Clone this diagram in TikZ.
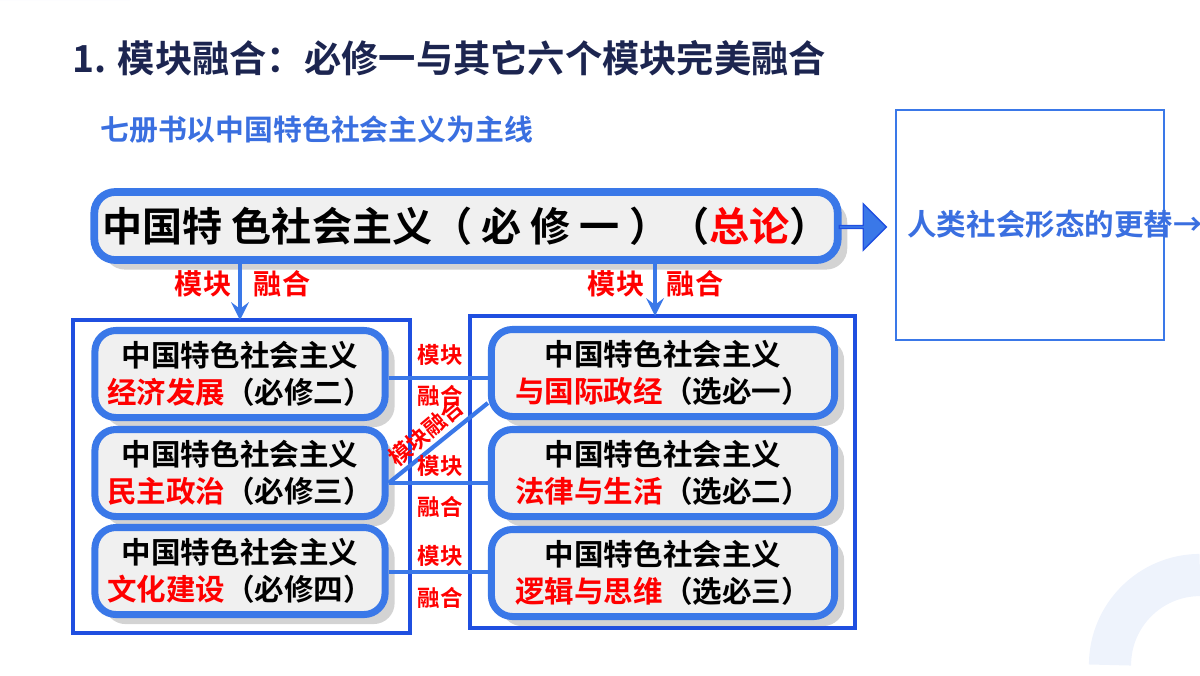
\documentclass[tikz,border=0pt]{standalone}
\usepackage{fontspec}
\setmainfont{Noto Sans CJK SC}[BoldFont={Noto Sans CJK SC Bold}]
\usetikzlibrary{positioning,shapes.arrows,shadows}
\definecolor{frameblue}{HTML}{1F4FE0}
\definecolor{boxblue}{HTML}{3A78E8}
\definecolor{navy}{HTML}{1C2550}
\definecolor{subblue}{HTML}{3A6FE0}
\definecolor{paleblue}{HTML}{EEF3FC}

\begin{document}
\begin{tikzpicture}[x=0.01cm,y=-0.01cm,
            topic/.style={draw=boxblue,line width=2.2pt,rounded corners=6pt,fill=gray!12,
                          drop shadow={opacity=.35},font=\bfseries\fontsize{11.4}{13}\selectfont,
                          minimum width=74.3mm,minimum height=6.8mm,inner sep=0pt},
            part/.style={draw=boxblue,line width=2pt,rounded corners=6pt,fill=gray!12,
                         drop shadow={opacity=.35},font=\bfseries\fontsize{8.4}{10.5}\selectfont,
                         align=center,minimum height=8.7mm,inner sep=0pt},
            frame/.style={draw=frameblue,line width=1.2pt},
            lab/.style={text=red,font=\bfseries\fontsize{6.4}{7}\selectfont},
            biglab/.style={text=red,font=\bfseries\fontsize{8}{9}\selectfont},
            link/.style={draw=boxblue,line width=1.2pt},
            every path/.style={>=stealth}
          ]
          \useasboundingbox (0,0) rectangle (1200,675);
          %background
          \fill[paleblue] (0,0) -- (130,0) arc[start angle=0,end angle=-90,radius=130] -- cycle;
          \draw[paleblue,line width=12pt] (1200,575) arc[start angle=270,end angle=180,radius=90];
          %titles
          \node[anchor=west,text=navy,font=\bfseries\fontsize{10.6}{12}\selectfont] (title) at (60,58) {1. 模块融合：必修一与其它六个模块完美融合};
          \node[anchor=west,text=subblue,font=\bfseries\fontsize{8.2}{10}\selectfont] (sub) at (88,130) {七册书以中国特色社会主义为主线};
          %main box
          \node[topic] (main) at (466,226) {中国特 色社会主义（ 必 修 一 ）（\textcolor{red}{总论}）};
          \node[single arrow,fill=boxblue,draw=frameblue,minimum height=4.7mm,minimum width=4.6mm,
                single arrow head extend=1mm,inner sep=0pt] (arr) at (862,227) {};
          \node[draw=boxblue,line width=.6pt,text=subblue,text width=24.5mm,align=center,
                minimum width=26.5mm,minimum height=23mm,font=\bfseries\fontsize{8.4}{10.3}\selectfont] (note) at (1030,225)
                {人类社会形态的更替→资本主义终究要被社会主义所取代；历史进程→开创和发展中国特色社会主义};
          %frames
          \draw[frame] (73,320) rectangle (410,633);
          \draw[frame] (470,316) rectangle (855,628);
          \coordinate (ltop) at (240,320);
          \coordinate (rtop) at (655,316);
          \draw[->,link] (main.south -| ltop) -- (ltop);
          \draw[->,link] (main.south -| rtop) -- (rtop);
          \node[biglab] at (203,284) {模块};
          \node[biglab] at (282,284) {融合};
          \node[biglab] at (616,284) {模块};
          \node[biglab] at (695,284) {融合};
          %parts
          \node[part,minimum width=29mm] (b2) at (240,374) {中国特色社会主义\\\textcolor{red}{经济发展}（必修二）};
          \node[part,minimum width=29mm] (b3) at (240,473) {中国特色社会主义\\\textcolor{red}{民主政治}（必修三）};
          \node[part,minimum width=29mm] (b4) at (240,571) {中国特色社会主义\\\textcolor{red}{文化建设}（必修四）};
          \node[part,minimum width=34.3mm] (x1) at (663,373) {中国特色社会主义\\\textcolor{red}{与国际政经}（选必一）};
          \node[part,minimum width=34.3mm] (x2) at (663,473) {中国特色社会主义\\\textcolor{red}{法律与生活}（选必二）};
          \node[part,minimum width=34.3mm] (x3) at (663,573) {中国特色社会主义\\\textcolor{red}{逻辑与思维}（选必三）};
          %links
          \draw[link] (b2.east |- 0,378) -- (x1.west |- 0,378);
          \draw[link] (b3.east |- 0,483) -- (x2.west |- 0,483);
          \draw[link] (b3.east |- 0,483) -- (x1.west |- 0,403);
          \draw[link] (b4.east |- 0,572) -- (x3.west |- 0,572);
          \node[lab] at (440,355) {模块};
          \node[lab] at (440,396) {融合};
          \node[lab] at (440,466) {模块};
          \node[lab] at (440,507) {融合};
          \node[lab] at (440,556) {模块};
          \node[lab] at (440,598) {融合};
          \node[lab,rotate=40] at (426,432) {模块融合};
      \end{tikzpicture}
\end{document}
